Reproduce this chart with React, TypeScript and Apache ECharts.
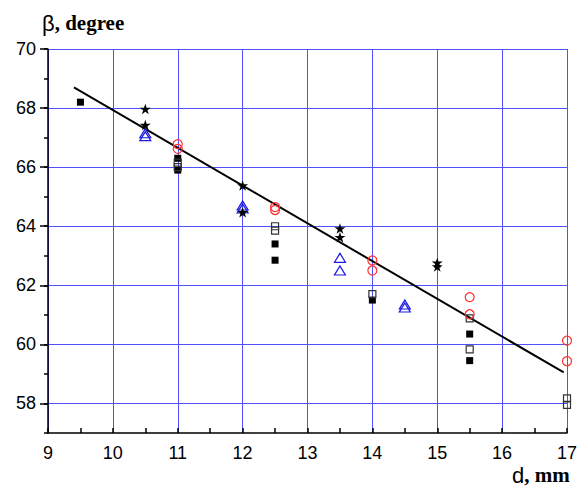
import React, { useEffect, useRef } from "react";
import * as echarts from "echarts";

// ---- data ----
const xTicks = [9, 10, 11, 12, 13, 14, 15, 16, 17];
const yMajorTicks = [58, 60, 62, 64, 66, 68, 70];

const filledSquares: number[][] = [
  [9.5, 68.2], [11, 66.3], [11, 65.9], [12.5, 63.4], [12.5, 62.85],
  [14, 61.5], [15.5, 60.35], [15.5, 59.45],
];
const openSquares: number[][] = [
  [11, 66.15], [11, 66.0], [12.5, 64.0], [12.5, 63.85], [14, 61.7],
  [15.5, 60.88], [15.5, 59.83], [17, 58.17], [17, 57.95],
];
const circles: number[][] = [
  [11, 66.78], [11, 66.62], [12.5, 64.65], [12.5, 64.55], [14, 62.84],
  [14, 62.5], [15.5, 61.6], [15.5, 61.02], [17, 60.13], [17, 59.43],
];
const triangles: number[][] = [
  [10.5, 67.15], [10.5, 67.05], [12, 64.7], [12, 64.6], [13.5, 62.93],
  [13.5, 62.5], [14.5, 61.35], [14.5, 61.25],
];
const stars: number[][] = [
  [10.5, 67.97], [10.5, 67.43], [12, 65.38], [12, 64.47], [13.5, 63.92],
  [13.5, 63.63], [15, 62.76], [15, 62.64],
];
const fitLine: number[][] = [[9.4, 68.7], [16.95, 59.05]];

const STAR =
  "path://M0,-10L2.245,-3.09L9.511,-3.09L3.633,1.18L5.878,8.09L0,3.82L-5.878,8.09L-3.633,1.18L-9.511,-3.09L-2.245,-3.09Z";

const SANS = 'Arial, "Liberation Sans", sans-serif';
const SERIF = '"Times New Roman", "Liberation Serif", serif';
const GRID_BLUE = "#5050ff";

export default function App() {
  const ref = useRef<HTMLDivElement>(null);
  useEffect(() => {
    if (!ref.current) return;
    const chart = echarts.init(ref.current, undefined, { renderer: "svg" });
    chart.setOption({
      animation: false,
      backgroundColor: "#ffffff",
      grid: { left: 48, right: 10, top: 49, bottom: 54, containLabel: false, outerBoundsMode: "none" },
      xAxis: {
        type: "value",
        min: xTicks[0],
        max: xTicks[xTicks.length - 1],
        interval: 1,
        axisLine: { show: true, onZero: false, lineStyle: { color: "#000", width: 1.5 } },
        axisTick: { show: true, inside: true, length: 5, lineStyle: { color: "#000", width: 1.5 } },
        minorTick: { show: true, splitNumber: 2, length: 5, lineStyle: { color: "#000", width: 1.5 } },
        axisLabel: { color: "#000", fontSize: 18, fontFamily: SANS, margin: 11 },
        splitLine: { show: true, lineStyle: { color: GRID_BLUE, width: 1 } },
      },
      yAxis: [
        {
          type: "value",
          min: 57,
          max: 70,
          interval: 1,
          axisLine: { show: true, onZero: false, lineStyle: { color: "#000", width: 1.5 } },
          axisTick: { show: true, inside: false, length: 4, lineStyle: { color: "#000", width: 1.5 } },
          axisLabel: {
            color: "#000",
            fontSize: 18,
            fontFamily: SANS,
            margin: 12,
            formatter: (v: number) => (yMajorTicks.indexOf(v) >= 0 ? String(v) : ""),
          },
          splitLine: { show: true, lineStyle: { color: ["transparent", GRID_BLUE], width: 1 } },
        },
        {
          type: "value",
          min: 57,
          max: 70,
          interval: 1,
          position: "left",
          axisLine: { show: false },
          axisTick: { show: true, inside: false, length: 8, customValues: yMajorTicks, lineStyle: { color: "#000", width: 1.5 } },
          axisLabel: { show: false },
          splitLine: { show: false },
        },
      ],
      graphic: [
        {
          type: "text",
          x: 42,
          y: 12,
          style: {
            text: "{a|β}{b|, degree}",
            rich: {
              a: { fontFamily: SANS, fontSize: 22, fill: "#000" },
              b: { fontFamily: SERIF, fontSize: 21, fontWeight: "bold", fill: "#000" },
            },
          },
        },
        {
          type: "text",
          x: 512,
          y: 464,
          style: {
            text: "{a|d}{b|, mm}",
            rich: {
              a: { fontFamily: SANS, fontSize: 22, lineHeight: 22, fill: "#000" },
              b: { fontFamily: SERIF, fontSize: 21, lineHeight: 22, fontWeight: "bold", fill: "#000" },
            },
          },
        },
      ],
      series: [
        {
          type: "line",
          data: fitLine,
          symbol: "none",
          lineStyle: { color: "#000", width: 2 },
          z: 2,
        },
        {
          type: "scatter",
          data: filledSquares,
          symbol: "rect",
          symbolSize: 7,
          itemStyle: { color: "#000", opacity: 1 },
          z: 3,
        },
        {
          type: "scatter",
          data: openSquares,
          symbol: "rect",
          symbolSize: 7,
          itemStyle: { color: "rgba(255,255,255,0)", borderColor: "#333", borderWidth: 1.2, opacity: 1 },
          z: 3,
        },
        {
          type: "scatter",
          data: circles,
          symbol: "circle",
          symbolSize: 9,
          itemStyle: { color: "rgba(255,255,255,0)", borderColor: "#ff3030", borderWidth: 1.2, opacity: 1 },
          z: 3,
        },
        {
          type: "scatter",
          data: triangles,
          symbol: "triangle",
          symbolSize: [11, 9],
          itemStyle: { color: "rgba(255,255,255,0)", borderColor: "#1a1ae6", borderWidth: 1.2, opacity: 1 },
          z: 3,
        },
        {
          type: "scatter",
          data: stars,
          symbol: STAR,
          symbolKeepAspect: true,
          symbolSize: 11,
          itemStyle: { color: "#000", opacity: 1 },
          z: 3,
        },
      ],
    });
    return () => chart.dispose();
  }, []);
  return (
    <div
      ref={ref}
      style={{ position: "absolute", left: 0, top: 0, width: 577, height: 487 }}
    />
  );
}
